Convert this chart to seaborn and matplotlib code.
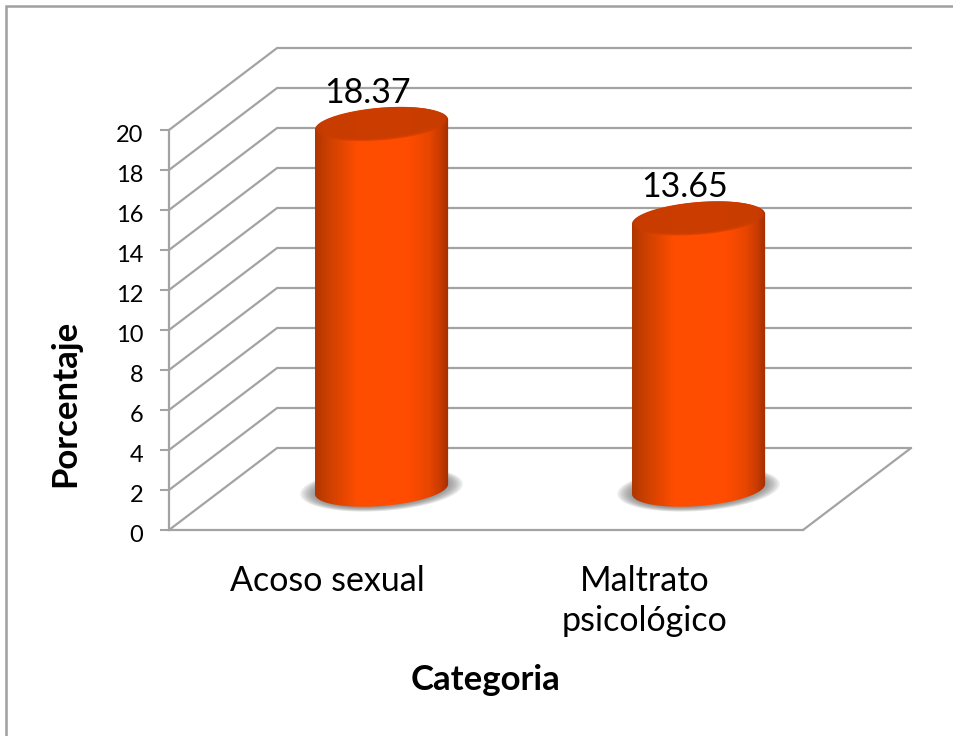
"""Recreate the 3D-looking cylinder chart with seaborn and matplotlib."""

import numpy as np
import pandas as pd
import seaborn as sns
import matplotlib
matplotlib.use("Agg")
import matplotlib.pyplot as plt
from matplotlib.colors import LinearSegmentedColormap
from matplotlib.lines import Line2D
from matplotlib.patches import Polygon
from matplotlib.transforms import ScaledTranslation

categories = ["Acoso sexual", "Maltrato\npsicológico"]
values = [18.37, 13.65]
y_ticks = [0, 2, 4, 6, 8, 10, 12, 14, 16, 18, 20]

GRID = "#A3A3A3"
DEPTH_X = 0.341  # back wall offset, in category units
DEPTH_Y = 4.1    # back wall offset, in percent units
BAR_W = 0.42
ELL_B = 0.85     # half height of the cylinder ellipse
ELL_TILT = 0.25

sns.set_theme(style="white")
plt.rcParams["font.family"] = ["Lato", "DejaVu Sans"]

fig = plt.figure(figsize=(9.54, 7.36), dpi=100)
ax = fig.add_axes([169 / 954, 1 - 530 / 736, 634 / 954, 400 / 736])

df = pd.DataFrame({"categoria": categories, "porcentaje": values})
sns.barplot(data=df, x="categoria", y="porcentaje", width=BAR_W,
            color="#FF4E00", ax=ax, zorder=3)
ax.set_xlim(-0.5, 1.5)
ax.set_ylim(0, 20)

cyl_cmap = LinearSegmentedColormap.from_list("cyl", [
    (0.00, "#B03600"), (0.10, "#CC4000"), (0.22, "#E84700"), (0.32, "#FF4E00"),
    (0.70, "#FF4C00"), (0.85, "#E84600"), (0.93, "#CC3C00"), (1.00, "#A22E00"),
])


def ellipse_points(cx, cy, a, b, tilt=ELL_TILT, n=120):
    t = np.linspace(0, 2 * np.pi, n)
    x = a * np.cos(t)
    y = b * np.sin(t) + tilt * np.cos(t)
    return np.column_stack([cx + x, cy + y])


def shaded(points, extent, zorder):
    # horizontal gradient clipped to a polygon, allowed to leave the axes box
    clip = Polygon(points, transform=ax.transData, facecolor="none", edgecolor="none")
    ax.add_patch(clip)
    im = ax.imshow(np.linspace(0, 1, 256).reshape(1, -1), cmap=cyl_cmap, aspect="auto",
                   extent=extent, zorder=zorder)
    im.set_clip_path(clip)
    im.set_clip_box(fig.bbox)


# back walls and floor, drawn from the tick values
for v in y_ticks:
    ax.plot([-0.5, -0.5 + DEPTH_X, 1.5 + DEPTH_X], [v, v + DEPTH_Y, v + DEPTH_Y],
            color=GRID, lw=1.6, clip_on=False, zorder=1, solid_joinstyle="miter")
ax.plot([1.5, 1.5 + DEPTH_X], [0, DEPTH_Y], color=GRID, lw=1.6, clip_on=False, zorder=1)

# turn the flat seaborn bars into cylinders
for bar, val in zip(ax.patches[:len(values)], values):
    bar.set_visible(False)
    cx = bar.get_x() + bar.get_width() / 2 + DEPTH_X / 2
    base = DEPTH_Y / 2
    top = base + val - 0.15
    a = bar.get_width() / 2

    # soft shadow on the floor
    for k in np.linspace(1.0, 0.72, 12):
        shadow = Polygon(ellipse_points(cx, base, a * 1.22 * k, ELL_B * 1.3 * k),
                         facecolor="#6E6E6E", edgecolor="none", alpha=0.13,
                         clip_on=False, zorder=2)
        ax.add_patch(shadow)

    # body with horizontal shading
    t = np.linspace(np.pi, 2 * np.pi, 80)
    low_x = cx + a * np.cos(t)
    low_y = base + ELL_B * np.sin(t) + ELL_TILT * np.cos(t)
    outline = np.vstack([
        np.column_stack([low_x, low_y]),
        [[cx + a, top + ELL_TILT], [cx - a, top - ELL_TILT]],
    ])
    shaded(outline, [cx - a, cx + a, base - 2, top + 1], 3)

    # top face: shaded rim fading into a darker centre
    shaded(ellipse_points(cx, top, a, ELL_B), [cx - a, cx + a, top - 2, top + 2], 4)
    for k in np.linspace(0.99, 0.9, 6):
        ax.add_patch(Polygon(ellipse_points(cx, top + 0.12 * (1 - k) / 0.1, a * k, ELL_B * k * 0.95),
                             facecolor="#C93C00", edgecolor="none", alpha=0.45,
                             zorder=5, clip_on=False))

    ax.text(cx - 0.045, top + 1.6, f"{val:.2f}", ha="center", va="center",
            fontsize=24.5, color="black", zorder=6, clip_on=False)

ax.set_xlim(-0.5, 1.5)
ax.set_ylim(0, 20)
ax.set_yticks(y_ticks)
ax.set_xticks([0, 1])
ax.set_xticklabels(categories, fontsize=24.5, color="black", linespacing=1.33)
ax.tick_params(axis="y", length=6.5, width=1.5, color=GRID, labelsize=17,
               labelcolor="black", pad=12, left=True)
ax.tick_params(axis="x", length=0, pad=25)

# the reference numbers sit a little below their ticks
down = ScaledTranslation(0, -3 / 100, fig.dpi_scale_trans)
for label in ax.get_yticklabels():
    label.set_transform(label.get_transform() + down)

for side in ["top", "right"]:
    ax.spines[side].set_visible(False)
for side in ["left", "bottom"]:
    ax.spines[side].set_color(GRID)
    ax.spines[side].set_linewidth(1.6)
ax.patch.set_alpha(0)

ax.set_xlabel("Categoria", fontsize=25, fontweight="bold", color="black")
ax.set_ylabel("Porcentaje", fontsize=25, fontweight="bold", color="black")
ax.xaxis.set_label_coords(0.499, (530 - 680) / 400, transform=ax.transAxes)
ax.yaxis.set_label_coords((65 - 169) / 634, (530 - 403) / 400, transform=ax.transAxes)
ax.xaxis.label.set_va("center")
ax.yaxis.label.set_va("center")

# outer chart frame: only the top and left edges fall inside the picture
fig.add_artist(Line2D([6 / 954, 6 / 954, 1], [0, 1 - 6 / 736, 1 - 6 / 736],
                      transform=fig.transFigure, color="#A0A0A0", lw=1.8,
                      solid_joinstyle="miter"))

fig.savefig("out.png", dpi=100)
